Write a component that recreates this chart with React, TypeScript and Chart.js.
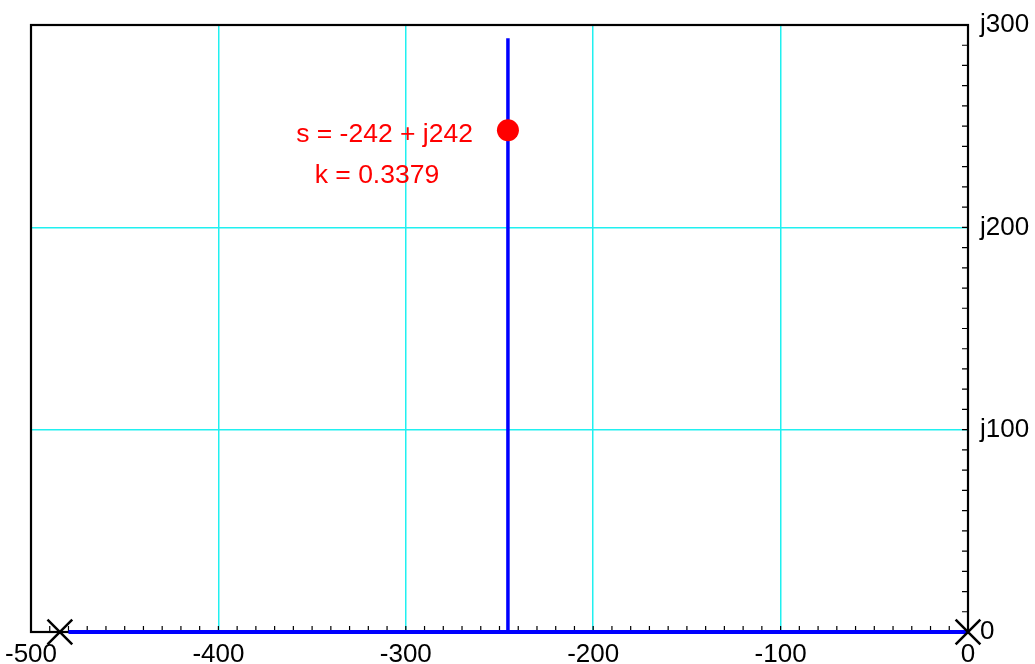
import React, { useEffect, useRef } from "react";
import { Chart, registerables } from "chart.js";

Chart.register(...registerables);

// ---- data ----
const xTickValues = [-500, -400, -300, -200, -100, 0];
const yTickValues = [0, 100, 200, 300];
const yTickLabels = ["0", "j100", "j200", "j300"];

const realLocusX = [-480, 0];
const realLocusY = [0, 0];
const branchX = [-245.5, -245.5];
const branchY = [0, 293.5];
const polesX = [-484.6, 0];
const polesY = [0, 0];
const pointX = [-245.5];
const pointY = [248];
const annotationLines = ["s = -242 + j242", "k = 0.3379"];

const FONT = '"Liberation Sans", Arial, Helvetica, sans-serif';

const toPts = (xs: number[], ys: number[]) => xs.map((x, i) => ({ x, y: ys[i] }));

const framePlugin = {
  id: "frameAndMinor",
  beforeDatasetsDraw(chart: any) {
    const { ctx, chartArea } = chart;
    const xs = chart.scales.x;
    const ys = chart.scales.y;
    ctx.save();
    // minor ticks
    ctx.strokeStyle = "#000";
    ctx.lineWidth = 1.2;
    ctx.beginPath();
    for (let v = xs.min + 10; v < xs.max; v += 10) {
      const px = xs.getPixelForValue(v);
      ctx.moveTo(px, chartArea.bottom);
      ctx.lineTo(px, chartArea.bottom - 6);
    }
    for (let v = ys.min + 10; v < ys.max; v += 10) {
      const py = ys.getPixelForValue(v);
      ctx.moveTo(chartArea.right, py);
      ctx.lineTo(chartArea.right - 6, py);
    }
    ctx.stroke();
    // frame
    ctx.lineWidth = 2.2;
    ctx.strokeRect(chartArea.left, chartArea.top, chartArea.right - chartArea.left, chartArea.bottom - chartArea.top);
    ctx.restore();
  },
  afterDatasetsDraw(chart: any) {
    const { ctx } = chart;
    const xs = chart.scales.x;
    const ys = chart.scales.y;
    const px = xs.getPixelForValue(pointX[0]);
    const py = ys.getPixelForValue(pointY[0]);
    ctx.save();
    ctx.fillStyle = "#ff0000";
    ctx.font = `26.5px ${FONT}`;
    ctx.textBaseline = "alphabetic";
    ctx.textAlign = "right";
    ctx.fillText(annotationLines[0], px - 35, py + 12);
    ctx.textAlign = "center";
    ctx.fillText(annotationLines[1], px - 131, py + 53);
    ctx.restore();
  },
};

export default function App() {
  const ref = useRef<HTMLCanvasElement>(null);

  useEffect(() => {
    document.body.style.margin = "0";
    const canvas = ref.current!;
    const chart = new Chart(canvas, {
      type: "scatter",
      data: {
        datasets: [
          {
            data: toPts(pointX, pointY),
            pointRadius: 11,
            pointBackgroundColor: "#ff0000",
            pointBorderColor: "#ff0000",
            pointBorderWidth: 0,
            showLine: false,
            order: 0,
            clip: false,
          } as any,
          {
            data: toPts(polesX, polesY),
            pointStyle: "crossRot",
            pointRadius: 17.5,
            pointBorderColor: "#000",
            pointBorderWidth: 2.5,
            showLine: false,
            order: 1,
            clip: false,
          } as any,
          {
            data: toPts(realLocusX, realLocusY),
            showLine: true,
            borderColor: "#0000ff",
            borderWidth: 4,
            pointRadius: 0,
            order: 2,
            clip: false,
          } as any,
          {
            data: toPts(branchX, branchY),
            showLine: true,
            borderColor: "#0000ff",
            borderWidth: 3.5,
            pointRadius: 0,
            order: 3,
            clip: false,
          } as any,
        ],
      },
      options: {
        animation: false,
        responsive: false,
        events: [],
        layout: { padding: { left: 31, top: 25, right: 0, bottom: 0 } },
        plugins: { legend: { display: false }, tooltip: { enabled: false } },
        scales: {
          x: {
            type: "linear",
            min: -500,
            max: 0,
            afterBuildTicks: (s: any) => {
              s.ticks = xTickValues.map((v) => ({ value: v }));
            },
            afterFit: (s: any) => {
              s.height = 32;
              s.paddingLeft = 0;
              s.paddingRight = 0;
            },
            grid: { color: "#20f0f0", lineWidth: 1.5, drawTicks: false },
            border: { display: false },
            ticks: {
              color: "#000",
              font: { family: FONT, size: 26 },
              padding: 7,
              maxRotation: 0,
              autoSkip: false,
              callback: (v: any) => String(v),
            },
          },
          y: {
            type: "linear",
            position: "right",
            min: 0,
            max: 300,
            afterBuildTicks: (s: any) => {
              s.ticks = yTickValues.map((v) => ({ value: v }));
            },
            afterFit: (s: any) => {
              s.width = 67;
              s.paddingTop = 0;
              s.paddingBottom = 0;
            },
            grid: { color: "#20f0f0", lineWidth: 1.5, drawTicks: false },
            border: { display: false },
            ticks: {
              color: "#000",
              font: { family: FONT, size: 26 },
              padding: 12,
              autoSkip: false,
              callback: (v: any) => yTickLabels[yTickValues.indexOf(Number(v))] ?? "",
            },
          },
        },
      },
      plugins: [framePlugin],
    });
    return () => chart.destroy();
  }, []);

  return (
    <div style={{ position: "fixed", left: 0, top: 0, width: 1035, height: 664, background: "#fff" }}>
      <canvas ref={ref} width={1035} height={664} />
    </div>
  );
}
